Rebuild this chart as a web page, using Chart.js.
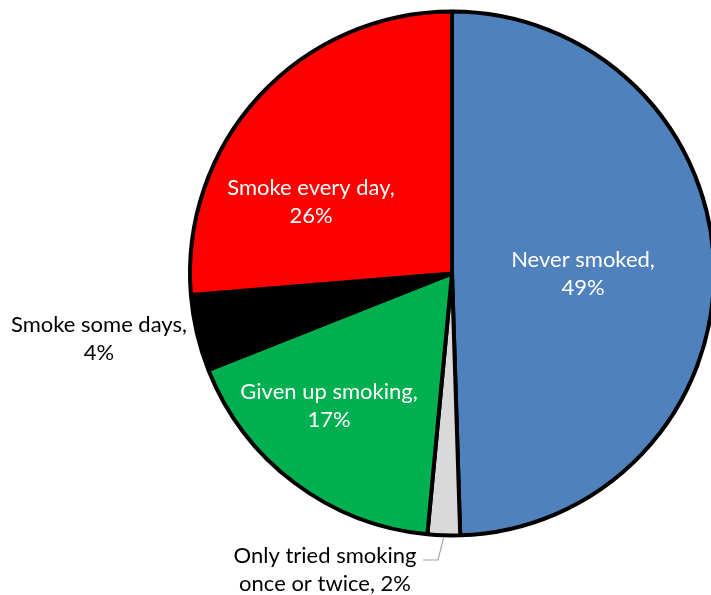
<!DOCTYPE html>
<html>
<head>
<meta charset="utf-8">
<title>Smoking status</title>
<script src="https://cdn.jsdelivr.net/npm/chart.js"></script>
<style>
    body { margin: 0; padding: 0; background: #fff; overflow: hidden; }
    #wrap { position: relative; width: 711px; height: 595px; }
</style>
</head>
<body>
<div id="wrap">
    <canvas id="myPie"></canvas>
</div>
<script>
    // categories, clockwise from 12 o'clock
    var categories = [
        'Never smoked',
        'Only tried smoking once or twice',
        'Given up smoking',
        'Smoke some days',
        'Smoke every day'
    ];
    // slice sizes (angles)
    var sliceValues = [49.5, 2.0, 17.5, 4.7, 26.3];
    // percent text printed in the labels
    var shownPercent = [49, 2, 17, 4, 26];
    // label lines as shown in the chart
    var labelLines = [
        ['Never smoked,', '49%'],
        ['Only tried smoking', 'once or twice, 2%'],
        ['Given up smoking,', '17%'],
        ['Smoke some days,', '4%'],
        ['Smoke every day,', '26%']
    ];
    var sliceColors = ['#4F81BD', '#D9D9D9', '#00B050', '#000000', '#FF0000'];

    // where each label sits (centre of the text block) and its colour
    var labelPlace = [
        { x: 583, y: 274, color: '#ffffff' },
        { x: 325, y: 570, color: '#000000' },
        { x: 329, y: 406, color: '#ffffff' },
        { x: 99,  y: 339, color: '#000000' },
        { x: 311, y: 202, color: '#ffffff' }
    ];

    var pieLabels = {
        id: 'pieLabels',
        afterDatasetsDraw: function(chart) {
            var ctx = chart.ctx;
            var meta = chart.getDatasetMeta(0);
            ctx.save();

            // leader line for the thin grey slice
            var arc = meta.data[1];
            var mid = (arc.startAngle + arc.endAngle) / 2;
            var sx = arc.x + Math.cos(mid) * (arc.outerRadius + 2);
            var sy = arc.y + Math.sin(mid) * (arc.outerRadius + 2);
            ctx.strokeStyle = '#A6A6A6';
            ctx.lineWidth = 1.2;
            ctx.beginPath();
            ctx.moveTo(sx, sy);
            ctx.lineTo(438, 560);
            ctx.lineTo(423, 560);
            ctx.stroke();

            ctx.font = '22px Lato, "Open Sans", sans-serif';
            ctx.textAlign = 'center';
            ctx.textBaseline = 'middle';
            var lh = 28;
            labelLines.forEach(function(lines, i) {
                var p = labelPlace[i];
                ctx.fillStyle = p.color;
                var y0 = p.y - (lines.length - 1) * lh / 2;
                lines.forEach(function(t, j) {
                    ctx.fillText(t, p.x, y0 + j * lh);
                });
            });
            ctx.restore();
        }
    };

    var config = {
        type: 'pie',
        data: {
            labels: categories,
            datasets: [{
                data: sliceValues,
                backgroundColor: sliceColors,
                borderColor: '#000000',
                borderWidth: 4
            }]
        },
        options: {
            responsive: false,
            animation: false,
            radius: 262,
            layout: { padding: { left: 193, right: 0, top: 0, bottom: 48 } },
            plugins: {
                legend: { display: false },
                tooltip: { enabled: false }
            }
        },
        plugins: [pieLabels]
    };

    var cv = document.getElementById('myPie');
    cv.width = 711;
    cv.height = 595;
    var myChart = new Chart(cv, config);
</script>
</body>
</html>
